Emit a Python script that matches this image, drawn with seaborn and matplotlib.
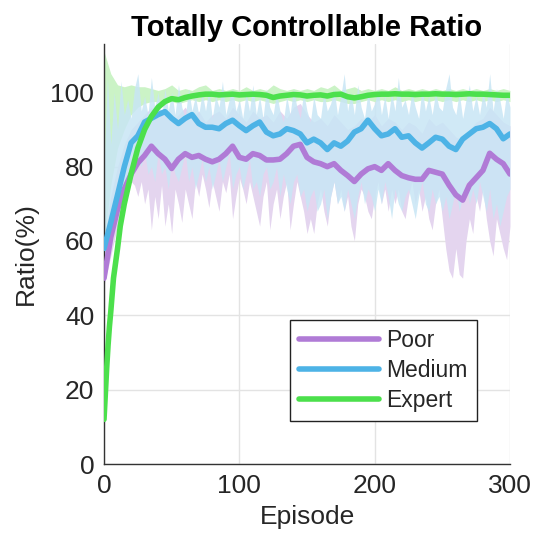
import numpy as np
import pandas as pd
import matplotlib
matplotlib.use("Agg")
import matplotlib.pyplot as plt
import seaborn as sns

# ---------------- data ----------------
episodes = list(range(0, 301, 5))
band_episodes = [i * 2.5 for i in range(121)]

poor_mean = [50, 61, 68.5, 74, 78, 81, 83, 85.5, 83.5, 82, 79.5, 82, 83.5, 82.5, 83, 82,
             81.3, 82, 83.5, 85.5, 82.5, 82, 83.5, 83, 81.8, 81.8, 82, 83.5, 85.5, 86, 82.5,
             81.3, 80.8, 80, 80.8, 79, 77.6, 76, 78, 79.4, 80, 79, 80.8, 79, 77.6, 77, 76.6,
             76.6, 79, 78.5, 78, 75, 72.4, 71, 75, 77, 79, 83.6, 82, 80.8, 78]
poor_low = [48, 52, 56, 60, 64, 68, 71, 74, 76, 75,
            72, 76, 70, 74, 63, 72, 66, 75, 64, 70,
            62, 74, 70, 65, 74, 70, 66, 76, 72, 78,
            74, 69, 76, 72, 68, 76, 73, 78, 66, 72,
            77, 74, 70, 76, 72, 68, 64, 72, 76, 63,
            70, 74, 66, 72, 76, 63, 70, 76, 72, 68,
            62, 66, 62, 70, 74, 68, 64, 72, 76, 70,
            74, 68, 72, 64, 60, 70, 74, 72, 68, 66,
            72, 76, 70, 74, 68, 74, 70, 74, 68, 66,
            72, 76, 70, 74, 68, 72, 66, 63, 70, 74,
            66, 58, 52, 50, 58, 51, 50, 60, 66, 62,
            72, 68, 74, 66, 60, 56, 66, 62, 58, 55,
            64]
poor_high = [60, 72, 80, 86, 90, 92, 94, 96, 93, 95, 92, 94, 96, 93, 95, 92, 94, 95, 93, 96,
             94, 92, 95, 93, 94, 92, 95, 93, 96, 97, 94, 92, 93, 91, 94, 92, 90, 91, 93, 92,
             94, 91, 93, 92, 90, 92, 91, 89, 93, 91, 92, 90, 88, 87, 90, 92, 93, 96, 94, 92, 91]

medium_mean = [58, 65, 72.4, 80, 86.4, 88.3, 92, 93, 94, 94.8, 93, 91.6, 93, 94, 91.6, 90.6,
               90.6, 90.2, 91.6, 92.5, 91, 89.7, 91, 92, 89.3, 88.3, 88.8, 90.2, 89.7, 88.8,
               86.4, 87.4, 86.4, 84.6, 86.4, 85.5, 86.9, 89.3, 90.2, 92.5, 90.2, 88.3, 88.8,
               90.2, 87.9, 88.3, 86.4, 85, 86.4, 87.9, 87.4, 85.5, 84.6, 87.4, 88.8, 90.2,
               90.6, 91.6, 90.2, 87.5, 88.8]
medium_low = [55, 58, 62, 66, 70, 72, 74, 76, 78, 80,
              82, 80, 84, 78, 80, 76, 84, 78, 80, 74,
              82, 78, 76, 80, 84, 76, 80, 74, 78, 82,
              76, 80, 74, 78, 82, 76, 80, 84, 74, 78,
              80, 74, 78, 82, 74, 76, 72, 78, 80, 74,
              76, 80, 72, 78, 74, 70, 76, 78, 72, 74,
              68, 72, 74, 68, 70, 74, 66, 72, 76, 70,
              72, 68, 74, 70, 66, 72, 76, 70, 74, 72,
              68, 74, 70, 76, 72, 66, 74, 70, 68, 72,
              74, 70, 66, 72, 76, 70, 68, 74, 70, 72,
              68, 72, 66, 70, 74, 68, 72, 76, 70, 74,
              70, 76, 72, 68, 74, 66, 70, 64, 68, 72,
              74]
medium_high = [80, 104, 86, 100, 90, 103, 94, 98, 93, 101,
               105, 95, 99, 94, 104, 96, 100, 93, 101, 95,
               100, 94, 102, 96, 93, 101, 95, 99, 94, 100,
               95, 101, 93, 99, 96, 103, 94, 98, 101, 95,
               98, 93, 100, 95, 102, 94, 99, 93, 101, 96,
               94, 100, 95, 92, 99, 94, 101, 96, 93, 100,
               95, 92, 99, 94, 93, 100, 95, 97, 101, 94,
               99, 105, 95, 100, 94, 102, 96, 93, 100, 95,
               97, 101, 94, 99, 93, 100, 95, 104, 96, 98,
               94, 100, 96, 93, 101, 95, 99, 94, 100, 96,
               95, 101, 105, 96, 94, 100, 93, 98, 102, 95,
               99, 94, 100, 96, 105, 95, 101, 98, 93, 100,
               96]

expert_mean = [12, 41, 58, 70, 78, 85, 90, 93.5, 96, 97.5, 98.3, 98, 98.6, 99, 99.3, 99.5,
               99.5, 99.3, 99.4, 99.5, 99.3, 99.4, 99.5, 99.4, 99.2, 98.6, 99, 99.2, 99.4,
               99.3, 99, 99.2, 99.3, 99, 99.4, 99.5, 98.8, 98.5, 98.8, 99.2, 99.4, 99.5, 99.5,
               99.6, 99.5, 99.5, 99.4, 99.5, 99.5, 99.6, 99.5, 99.5, 99.4, 99.5, 99.6, 99.5,
               99.5, 99.4, 99.3, 99.2, 99.2]
expert_early_ep = [1, 2, 3, 4, 7, 12]
expert_early = [19, 26, 32, 37, 50, 64]
expert_low = [60, 75, 85, 90, 94, 96, 97, 97.5, 97.5, 97.5, 97.5, 97, 97.5, 98, 97.5, 98,
              97.5, 98, 97.5, 98, 97.5, 98, 97.5, 98, 97.5, 97, 97.5, 98, 97.5, 98, 97.5, 98,
              97.5, 97.5, 98, 97.5, 97, 97, 97.5, 98, 97.5, 98, 97.5, 98, 97.5, 98, 97.5, 98,
              97.5, 98, 97.5, 98, 97.5, 98, 97.5, 98, 97.5, 98, 97.5, 98, 97.5]
expert_high = [111, 105, 102, 101.5, 102, 101.5, 101.5, 101, 100.5, 101, 102, 100.5, 101,
               100.5, 101.5, 102, 100.5, 101, 100.5, 101, 100.5, 101.5, 100.5, 101, 100.5, 102,
               101, 100.5, 101, 100.5, 101, 100.5, 101.5, 101, 102, 100.5, 101, 101.5, 100.5,
               101, 100.5, 101, 100.5, 101.5, 100.5, 101, 100.5, 101, 100.5, 101, 100.5, 101,
               100.5, 101, 100.5, 101, 100.5, 101, 100.5, 101, 100.5]

levels = ["Poor", "Medium", "Expert"]
colors = {"Poor": "#B07BD6", "Medium": "#4DB3E6", "Expert": "#4CE04C"}
band_colors = {"Poor": "#E4D5EF", "Medium": "#C8E6F5", "Expert": "#CBF3C6"}
x_ticks = [0, 100, 200, 300]
y_ticks = [0, 20, 40, 60, 80, 100]

# ---------------- build long table ----------------
exp_pairs = sorted(list(zip(episodes, expert_mean)) + list(zip(expert_early_ep, expert_early)))
frames = [
    pd.DataFrame({"Episode": episodes, "Ratio": poor_mean, "Level": "Poor"}),
    pd.DataFrame({"Episode": episodes, "Ratio": medium_mean, "Level": "Medium"}),
    pd.DataFrame({"Episode": [p[0] for p in exp_pairs], "Ratio": [p[1] for p in exp_pairs],
                  "Level": "Expert"}),
]
df = pd.concat(frames, ignore_index=True)

# ---------------- figure ----------------
sns.set_theme(style="white")
plt.rcParams["font.family"] = ["Liberation Sans", "DejaVu Sans"]

fig = plt.figure(figsize=(5.37, 5.45), dpi=100)
ax = fig.add_axes([0.1937, 0.1486, 0.7560, 0.7707])

# bands: expert first, then poor, then medium (light fills)
ax.fill_between(episodes, expert_low, expert_high, color=band_colors["Expert"],
                linewidth=0, zorder=1)
ax.fill_between(band_episodes, poor_low,
                np.interp(band_episodes, episodes, poor_high),
                color=band_colors["Poor"], linewidth=0, zorder=1.1)
ax.fill_between(band_episodes, medium_low, medium_high, color=band_colors["Medium"],
                alpha=0.85, linewidth=0, zorder=1.2)

sns.lineplot(data=df, x="Episode", y="Ratio", hue="Level", hue_order=levels,
             palette=colors, linewidth=4, estimator=None, sort=True, ax=ax, zorder=3)

ax.set_xlim(0, 300)
ax.set_ylim(0, 113)
ax.set_xticks(x_ticks)
ax.set_yticks(y_ticks)
ax.grid(True, color="#E3E3E3", linewidth=1)
ax.set_axisbelow(True)
for s in ["top", "right"]:
    ax.spines[s].set_visible(False)
for s in ["left", "bottom"]:
    ax.spines[s].set_color("#333333")
    ax.spines[s].set_linewidth(1)
ax.tick_params(axis="both", direction="in", length=4, labelsize=19, colors="#333333",
               labelcolor="#262626", pad=7)

ax.set_xlabel("Episode", fontsize=19, color="#262626", labelpad=5)
ax.set_ylabel("Ratio(%)", fontsize=19, color="#262626", labelpad=9)
ax.set_title("Totally Controllable Ratio", fontsize=21, fontweight="bold", color="black", pad=6)

handles, labels = ax.get_legend_handles_labels()
leg = ax.legend(handles, labels, loc="lower left", bbox_to_anchor=(0.458, 0.102),
                fontsize=16.5, frameon=True, fancybox=False, framealpha=1,
                edgecolor="#222222", handlelength=3.5, handletextpad=0.3,
                labelspacing=0.3, borderpad=0.4, borderaxespad=0)
leg.get_frame().set_linewidth(1)
for line in leg.get_lines():
    line.set_linewidth(4)

fig.savefig("out.png", dpi=100)
